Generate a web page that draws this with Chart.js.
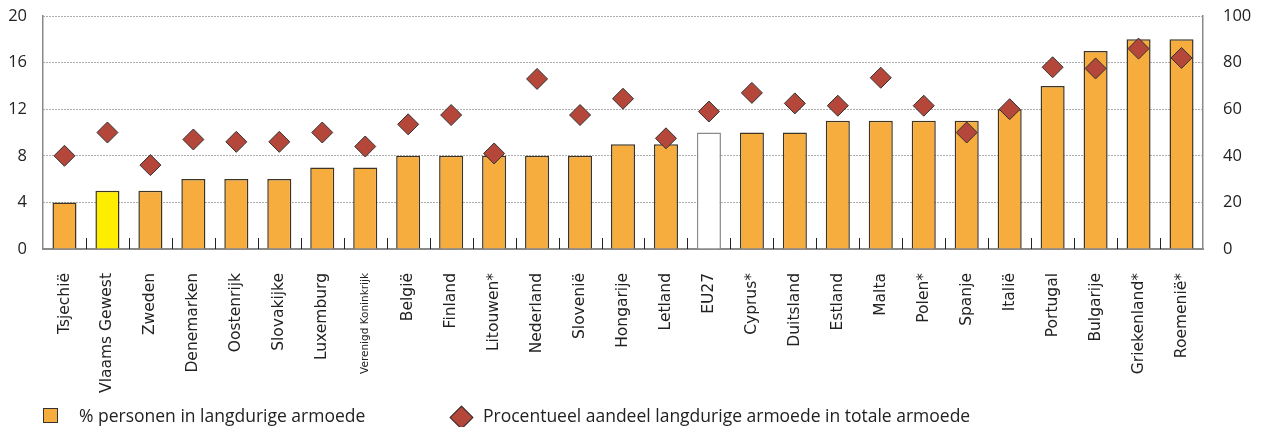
<!DOCTYPE html>
<html>
<head>
<meta charset="utf-8">
<script src="https://cdn.jsdelivr.net/npm/chart.js@4"></script>
<style>
  body { margin: 0; background: #fff; font-family: "Open Sans", sans-serif; }
  #wrap { position: relative; width: 1264px; height: 427px; }
  .legend { position: absolute; font-size: 17.5px; color: #222; line-height: 20px; white-space: nowrap; }
  .sq { position: absolute; width: 13px; height: 13px; background: #f7ad3e; border: 1px solid #333; }
  .dm { position: absolute; width: 15px; height: 15px; background: #b5473a; border: 1px solid #333; transform: rotate(45deg); }
</style>
</head>
<body>
<div id="wrap">
  <canvas id="armoedeChart" width="1264" height="427"></canvas>
  <div class="sq" style="left:43px; top:408px;"></div>
  <div class="legend" style="left:79px; top:405px;">% personen in langdurige armoede</div>
  <div class="dm" style="left:453px; top:409px;"></div>
  <div class="legend" style="left:483px; top:405px;">Procentueel aandeel langdurige armoede in totale armoede</div>
</div>
<script>
// ===== Langdurige armoede in de EU =====
const countries = [
  "Tsjechië", "Vlaams Gewest", "Zweden", "Denemarken", "Oostenrijk", "Slovakijke",
  "Luxemburg", "Verenigd Koninkrijk", "België", "Finland", "Litouwen*", "Nederland",
  "Slovenië", "Hongarije", "Letland", "EU27", "Cyprus*", "Duitsland", "Estland",
  "Malta", "Polen*", "Spanje", "Italië", "Portugal", "Bulgarije", "Griekenland*", "Roemenië*"
];

// % personen in langdurige armoede (linker as)
const langdurig = [4, 5, 5, 6, 6, 6, 7, 7, 8, 8, 8, 8, 8, 9, 9, 10, 10, 10, 11, 11, 11, 11, 12, 14, 17, 18, 18];

// aandeel langdurige armoede in totale armoede (rechter as)
const aandeel = [40, 50, 36, 47, 46, 46, 50, 44, 53.5, 57.5, 41, 73, 57.5, 64.5, 47.5, 59, 67, 62.5, 61.5,
  73.5, 61.5, 50, 60, 78, 77.5, 86, 82];

const leftTicks = [0, 4, 8, 12, 16, 20];
const rightTicks = [0, 20, 40, 60, 80, 100];

const barColors = countries.map(c => c === "Vlaams Gewest" ? "#ffed00" : c === "EU27" ? "#ffffff" : "#f7ad3e");
const barBorders = countries.map(c => c === "EU27" ? "#8a8a8a" : "#3d3424");

// small inward ticks between the categories
const innerTicks = {
  id: "innerTicks",
  afterDatasetsDraw(chart) {
    const x = chart.scales.x;
    const bottom = chart.chartArea.bottom;
    const ctx = chart.ctx;
    ctx.save();
    ctx.strokeStyle = "#222";
    ctx.lineWidth = 1;
    for (let i = 1; i < countries.length; i++) {
      const px = Math.round((x.getPixelForValue(i - 1) + x.getPixelForValue(i)) / 2) + 0.5;
      ctx.beginPath();
      ctx.moveTo(px, bottom - 11);
      ctx.lineTo(px, bottom);
      ctx.stroke();
    }
    ctx.restore();
  }
};

Chart.defaults.font.family = '"Open Sans", sans-serif';
Chart.defaults.color = "#222";

new Chart(document.getElementById("armoedeChart"), {
  data: {
    labels: countries,
    datasets: [
      {
        type: "line",
        label: "Procentueel aandeel langdurige armoede in totale armoede",
        data: aandeel,
        yAxisID: "y1",
        showLine: false,
        pointStyle: "rectRot",
        pointRadius: 10.5,
        pointHoverRadius: 10.5,
        pointBackgroundColor: "#b5473a",
        pointBorderColor: "#333",
        pointBorderWidth: 1,
        order: 0
      },
      {
        type: "bar",
        label: "% personen in langdurige armoede",
        data: langdurig,
        yAxisID: "y",
        backgroundColor: barColors,
        borderColor: barBorders,
        borderWidth: 1.5,
        categoryPercentage: 1,
        barPercentage: 0.56,
        order: 1
      }
    ]
  },
  options: {
    responsive: false,
    animation: false,
    layout: { padding: { top: 16, left: 0, right: 0, bottom: 0 } },
    plugins: {
      legend: { display: false },
      tooltip: { enabled: false }
    },
    scales: {
      x: {
        grid: { display: false },
        border: { display: true, color: "#8a8a8a", width: 2 },
        ticks: {
          autoSkip: false,
          maxRotation: 90,
          minRotation: 90,
          padding: 16,
          color: "#222",
          font: (c) => ({ family: '"DejaVu Sans", sans-serif', size: c.index === 7 ? 10.5 : 15.5 })
        },
        afterFit: (s) => { s.height = 427 - 249; }
      },
      y: {
        position: "left",
        min: 0,
        max: 20,
        afterBuildTicks: (s) => { s.ticks = leftTicks.map(v => ({ value: v })); },
        grid: { color: "#5a5a5a", lineWidth: 1, drawTicks: false },
        border: { display: true, color: "#8a8a8a", width: 1.5, dash: [1, 2] },
        ticks: { padding: 16, font: { size: 16.5 } },
        afterFit: (s) => { s.width = 43; s.paddingTop = 0; s.paddingBottom = 0; }
      },
      y1: {
        position: "right",
        min: 0,
        max: 100,
        afterBuildTicks: (s) => { s.ticks = rightTicks.map(v => ({ value: v })); },
        grid: { drawOnChartArea: false, drawTicks: false },
        border: { display: true, color: "#8a8a8a", width: 1.5 },
        ticks: { padding: 20, font: { size: 16.5 } },
        afterFit: (s) => { s.width = 61; s.paddingTop = 0; s.paddingBottom = 0; }
      }
    }
  },
  plugins: [innerTicks]
});
</script>
</body>
</html>
